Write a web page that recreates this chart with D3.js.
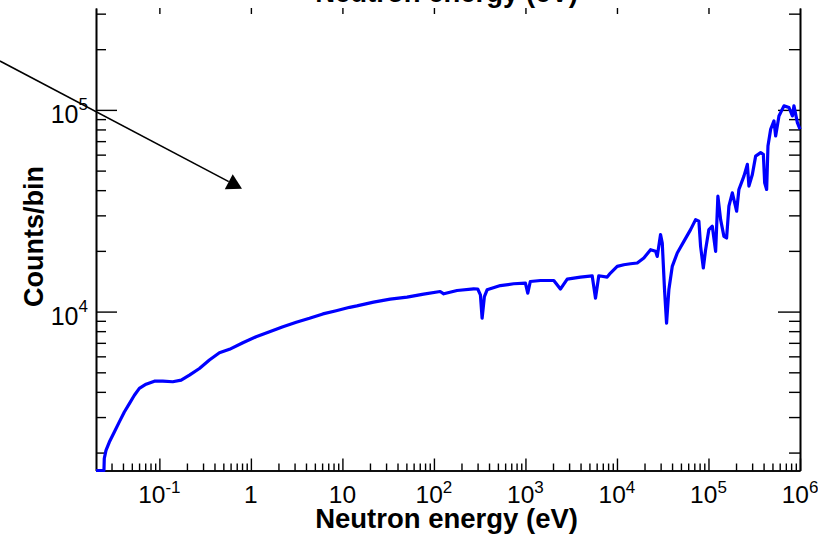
<!DOCTYPE html>
<html>
<head>
<meta charset="utf-8">
<script src="https://cdn.jsdelivr.net/npm/d3@7"></script>
<style>
  html, body { margin: 0; padding: 0; background: #fff; }
  svg { display: block; font-family: "Liberation Sans", Arial, sans-serif; }
</style>
</head>
<body>
<svg id="chart" width="818" height="534"></svg>
<script>
// Neutron energy spectrum (counts per bin vs. neutron energy, log-log)
const energy = [0.0203, 0.0248, 0.0250, 0.0261, 0.0284, 0.0322, 0.0365, 0.0414, 0.0470, 0.0533,
  0.0604, 0.0715, 0.0882, 0.109, 0.140, 0.173, 0.213, 0.274, 0.352, 0.453,
  0.583, 0.817, 1.14, 1.60, 2.24, 3.13, 4.37, 6.12, 8.56, 12.0,
  14.4, 21.9, 33.3, 50.8, 77.2, 117, 128, 179, 272, 301,
  322, 336, 356, 381, 532, 744, 999, 1060, 1130, 1460,
  2040, 2410, 2860, 3990, 5360, 5830, 6330, 7820, 8490, 10060,
  11880, 14060, 16660, 19670, 23280, 26400, 27550, 29940, 31260, 33100,
  34830, 36900, 40180, 45590, 53830, 63740, 72300, 78550, 82000, 87800,
  93000, 101000, 110100, 119700, 126700, 135700, 147500, 157800, 167200, 182200,
  203000, 215000, 244000, 265900, 276700, 301500, 327600, 371600, 397800, 411100,
  432100, 446700, 478000, 519400, 542000, 589000, 668000, 758000, 826000, 859000,
  936000, 1000000];

const counts = [1500, 1500, 1870, 2050, 2255, 2530, 2840, 3180, 3500, 3850,
  4160, 4365, 4520, 4520, 4490, 4570, 4840, 5225, 5755, 6250,
  6500, 7010, 7510, 7950, 8420, 8860, 9270, 9740, 10100, 10500,
  10670, 11140, 11530, 11790, 12210, 12580, 12250, 12720, 12970, 12940,
  12110, 9270, 11875, 12820, 13460, 13740, 13850, 12350, 14100, 14260,
  14260, 12930, 14500, 14830, 15050, 11660, 15050, 14830, 15520, 16750,
  17070, 17260, 17410, 18440, 20280, 19890, 18780, 24080, 21890, 12820,
  8756, 12820, 16750, 19520, 22290, 25500, 28580, 28050, 21060, 16450,
  20280, 25500, 26490, 19890, 37330, 28580, 23600, 23170, 33300, 38820,
  31450, 40320, 46950, 53700, 41880, 47860, 59000, 61360, 60200, 43560,
  40320, 66220, 80200, 88170, 74250, 93300, 104700, 102800, 93300, 104700,
  86500, 80200];

// Axis tick labels: [value, base text, exponent text]
const xTickLabels = [[0.1, "10", "-1"], [1, "1", ""], [10, "10", ""], [100, "10", "2"],
  [1000, "10", "3"], [10000, "10", "4"], [100000, "10", "5"], [1000000, "10", "6"]];
const yTickLabels = [[10000, "10", "4"], [100000, "10", "5"]];

const xTitle = "Neutron energy (eV)";
const yTitle = "Counts/bin";

// Annotation arrow, in data coordinates: [energy, counts]
const arrowFrom = [0.00181, 174600];
const arrowTo = [0.80, 40700];

(function () {
  const svg = d3.select("#chart");
  const pLeft = 96, pRight = 800, pTop = 8, pBottom = 470.5;

  const x = d3.scaleLog().domain([0.0203, 1e6]).range([pLeft, pRight]);
  const y = d3.scaleLog().domain([1630, 320000]).range([pBottom, pTop]).clamp(true);

  const xMajor = [0.1, 1, 10, 100, 1000, 10000, 100000, 1000000];
  const xMinor = [];
  for (let e = -2; e <= 5; e++) for (let m = 2; m <= 9; m++) {
    const v = m * Math.pow(10, e);
    if (v >= 0.0203 && v <= 1e6) xMinor.push(v);
  }
  const yMajor = [10000, 100000];
  const yMinor = [];
  for (let e = 3; e <= 5; e++) for (let m = 2; m <= 9; m++) {
    const v = m * Math.pow(10, e);
    if (v >= 1630 && v <= 320000) yMinor.push(v);
  }

  function styleAxis(g) {
    g.selectAll("path.domain").attr("stroke", "#000").attr("stroke-width", 1.6);
    g.selectAll(".tick line").attr("stroke", "#000").attr("stroke-width", 1.4);
    g.selectAll(".tick text").remove();
  }

  // bottom axis (ticks inward)
  svg.append("g").attr("transform", `translate(0,${pBottom})`)
    .call(d3.axisBottom(x).tickValues(xMinor).tickSize(-7).tickSizeOuter(0).tickFormat(""))
    .call(styleAxis);
  svg.append("g").attr("transform", `translate(0,${pBottom})`)
    .call(d3.axisBottom(x).tickValues(xMajor).tickSize(-12).tickSizeOuter(0).tickFormat(""))
    .call(styleAxis);
  // top ticks only
  svg.append("g").attr("transform", `translate(0,${pTop})`)
    .call(d3.axisTop(x).tickValues(xMajor.slice(0, -1)).tickSize(-6).tickSizeOuter(0).tickFormat(""))
    .call(styleAxis).call(g => g.select("path.domain").remove());
  // left axis
  svg.append("g").attr("transform", `translate(${pLeft},0)`)
    .call(d3.axisLeft(y).tickValues(yMinor).tickSize(-10).tickSizeOuter(0).tickFormat(""))
    .call(styleAxis);
  svg.append("g").attr("transform", `translate(${pLeft},0)`)
    .call(d3.axisLeft(y).tickValues(yMajor).tickSize(-21).tickSizeOuter(0).tickFormat(""))
    .call(styleAxis);
  // right axis
  svg.append("g").attr("transform", `translate(${pRight},0)`)
    .call(d3.axisRight(y).tickValues(yMinor).tickSize(-11).tickSizeOuter(0).tickFormat(""))
    .call(styleAxis);
  svg.append("g").attr("transform", `translate(${pRight},0)`)
    .call(d3.axisRight(y).tickValues(yMajor).tickSize(-22).tickSizeOuter(0).tickFormat(""))
    .call(styleAxis);

  // x tick labels
  xTickLabels.forEach(([v, base, exp]) => {
    const t = svg.append("text").attr("x", x(v)).attr("y", 503)
      .attr("text-anchor", "middle").attr("font-size", 24.5).attr("fill", "#000");
    t.append("tspan").text(base);
    if (exp) t.append("tspan").attr("dy", -10).attr("font-size", 17).text(exp);
  });
  // y tick labels
  yTickLabels.forEach(([v, base, exp]) => {
    const t = svg.append("text").attr("x", 88).attr("y", y(v) + 13)
      .attr("text-anchor", "end").attr("font-size", 25).attr("fill", "#000");
    t.append("tspan").text(base);
    t.append("tspan").attr("dy", -13).attr("font-size", 17).text(exp);
  });

  // axis titles
  svg.append("text").attr("x", 578).attr("y", 528).attr("text-anchor", "end")
    .attr("font-size", 27.5).attr("font-weight", "bold").text(xTitle);
  svg.append("text").attr("x", 578).attr("y", 2).attr("text-anchor", "end")
    .attr("font-size", 27.5).attr("font-weight", "bold").text(xTitle);
  svg.append("text").attr("transform", "translate(43,307) rotate(-90)")
    .attr("text-anchor", "start").attr("font-size", 27).attr("font-weight", "bold").text(yTitle);

  // spectrum line
  const pts = energy.map((e, i) => [e, counts[i]]);
  const line = d3.line().x(d => x(d[0])).y(d => y(d[1]));
  svg.append("path").datum(pts)
    .attr("d", line)
    .attr("fill", "none").attr("stroke", "#0000ff").attr("stroke-width", 3.2)
    .attr("stroke-linejoin", "round");

  // annotation arrow
  const ax0 = x(arrowFrom[0]), ay0 = y(arrowFrom[1]);
  const ax1 = x(arrowTo[0]), ay1 = y(arrowTo[1]);
  const ang = Math.atan2(ay1 - ay0, ax1 - ax0);
  const headLen = 15, headHalf = 8.5;
  const bx = ax1 - headLen * Math.cos(ang), by = ay1 - headLen * Math.sin(ang);
  svg.append("line").attr("x1", ax0).attr("y1", ay0).attr("x2", bx).attr("y2", by)
    .attr("stroke", "#000").attr("stroke-width", 1.6);
  svg.append("path")
    .attr("d", d3.line()([
      [ax1, ay1],
      [bx + headHalf * Math.sin(ang), by - headHalf * Math.cos(ang)],
      [bx - headHalf * Math.sin(ang), by + headHalf * Math.cos(ang)]
    ]) + "Z")
    .attr("fill", "#000");
})();
</script>
</body>
</html>
